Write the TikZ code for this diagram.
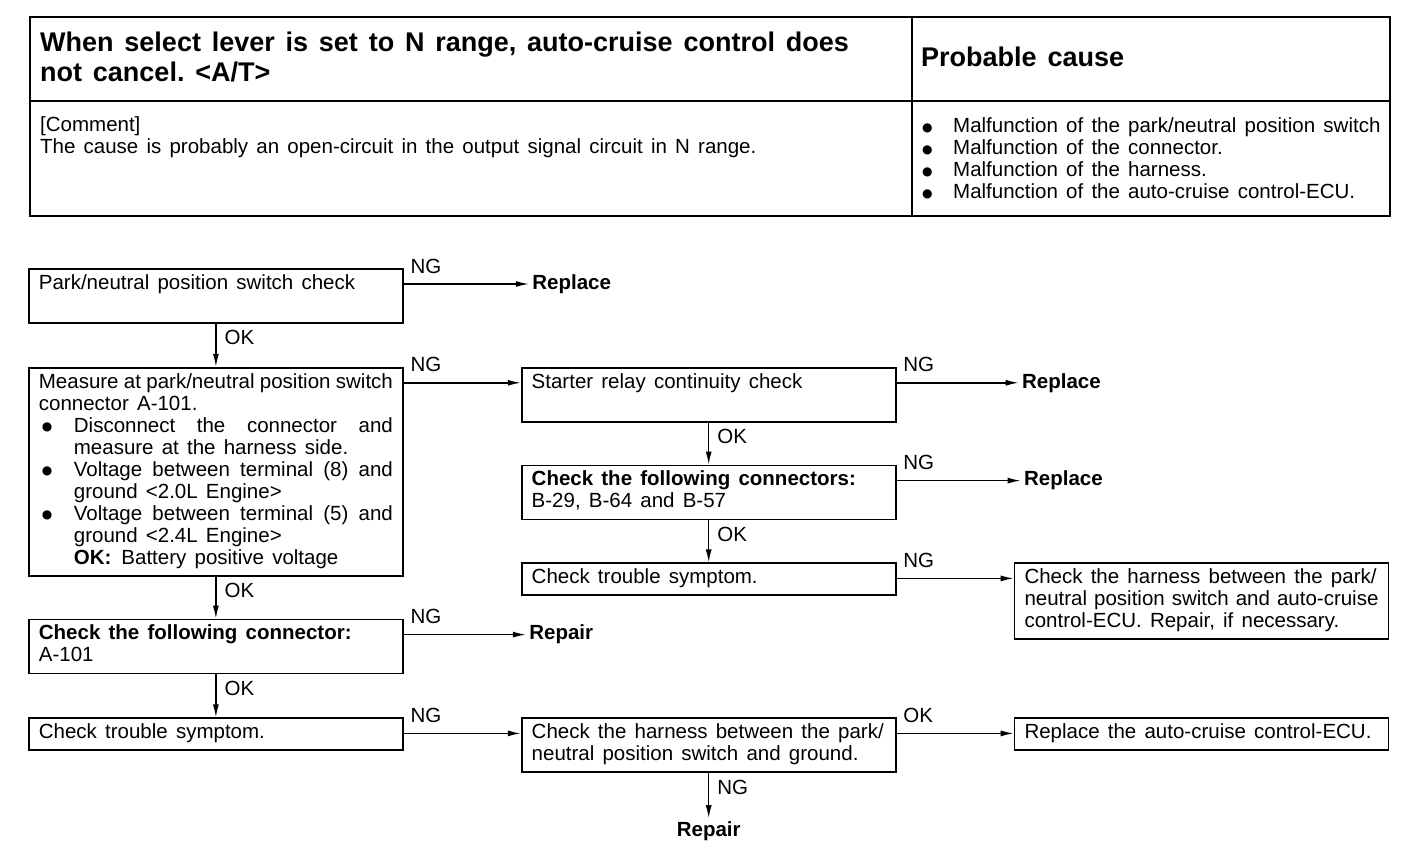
\documentclass[tikz,border=0pt]{standalone}
\usepackage{fontspec}
\setmainfont{Liberation Sans}
\newfontfamily\symfont{DejaVu Sans}
\usetikzlibrary{positioning,arrows.meta}

\newcommand{\bodyfont}{\fontsize{20.5}{22}\selectfont}
\newcommand{\headfont}{\fontsize{27}{30}\selectfont\bfseries}
\newcommand{\dotbul}{\raisebox{1.5pt}{\symfont\fontsize{12}{12}\selectfont ●}}
\newcommand{\bul}{\makebox[35pt][l]{\hspace{3pt}\dotbul}}
\newcommand{\ind}{\hspace*{35pt}}

\begin{document}
\begin{tikzpicture}[x=1pt,y=-1pt,font=\bodyfont,
	execute at begin node={\spaceskip=.4em plus .2em minus .14em\xspaceskip=\spaceskip},
	stepbox/.style={draw, rectangle, line width=1.8pt, text width=354pt,
		inner xsep=10pt, inner ysep=5pt, align=left},
	arr/.style={line width=1.4pt, -{Latex[length=13pt,width=6pt]}},
	hlbl/.style={anchor=south west, inner sep=0pt, xshift=6pt, yshift=10pt},
	vlbl/.style={anchor=north west, inner sep=0pt, xshift=8pt, yshift=-6pt},
	result/.style={anchor=west, font=\bodyfont\bfseries},
	tbl/.style={line width=1.8pt}]

\useasboundingbox (0,0) rectangle (1408,864);

% Header table
\draw[tbl] (30,17) rectangle (1390,216);
\draw[tbl] (30,101) -- (1390,101);
\draw[tbl] (912,17) -- (912,216);

\node[anchor=north west,
	inner sep=0pt,
	text width=870pt,
	align=left,
	font=\headfont] (title) at (40,32)
	{When select lever is set to N range, auto-cruise control does\\not cancel. <A/T>};

\node[anchor=base west,
	inner sep=0pt,
	font=\headfont] (cause) at (921,67) {Probable cause};

\node[anchor=north west,
	inner sep=0pt,
	align=left] (comment) at (40,116)
	{\strut[Comment]\\The cause is probably an open-circuit in the output signal circuit in N range.};

\node[anchor=north west,
	inner sep=0pt,
	align=left] (causes) at (922,117)
	{\strut\makebox[31pt][l]{\dotbul}Malfunction of the park/neutral position switch\\
	\makebox[31pt][l]{\dotbul}Malfunction of the connector.\\
	\makebox[31pt][l]{\dotbul}Malfunction of the harness.\\
	\makebox[31pt][l]{\dotbul}Malfunction of the auto-cruise control-ECU.\strut};

% Left column
\node[stepbox,
	anchor=north west] (parkchk) at (28,268)
	{\strut Park/neutral position switch check\\\strut};

\node[stepbox,
	below=43pt of parkchk] (measure)
	{\makebox[354pt][s]{\strut Measure at park/neutral position switch}\\
	connector A-101.\\
	\bul\makebox[319pt][s]{Disconnect the connector and}\\
	\ind measure at the harness side.\\
	\bul\makebox[319pt][s]{Voltage between terminal (8) and}\\
	\ind ground <2.0L Engine>\\
	\bul\makebox[319pt][s]{Voltage between terminal (5) and}\\
	\ind ground <2.4L Engine>\\
	\ind\textbf{OK:}\hspace{10pt}Battery positive voltage\strut};

\node[stepbox,
	below=42pt of measure] (conn)
	{\strut\textbf{Check the following connector:}\\A-101\strut};

\node[stepbox,
	below=43pt of conn] (symptom)
	{\strut Check trouble symptom.\strut};

% Middle column
\node[stepbox,
	right=117pt of measure.north east,
	anchor=north west] (relay)
	{\strut Starter relay continuity check\\\strut};

\node[stepbox,
	below=42pt of relay] (conns)
	{\strut\textbf{Check the following connectors:}\\B-29, B-64 and B-57\strut};

\node[stepbox,
	below=42pt of conns] (symptomb)
	{\strut Check trouble symptom.\strut};

\node[stepbox,
	right=117pt of symptom.north east,
	anchor=north west] (harnessgnd)
	{\strut Check the harness between the park/\\neutral position switch and ground.\strut};

% Right column
\node[stepbox,
	right=117pt of symptomb.north east,
	anchor=north west] (harnessecu)
	{\strut Check the harness between the park/\\neutral position switch and auto-cruise\\control-ECU. Repair, if necessary.\strut};

\node[stepbox,
	right=117pt of harnessgnd.north east,
	anchor=north west] (ecu)
	{\strut Replace the auto-cruise control-ECU.\strut};

% Results
\node[result] (rep1) at ([xshift=125pt,yshift=-16pt]parkchk.north east) {Replace};
\node[result] (rep2) at ([xshift=122pt,yshift=-16pt]relay.north east) {Replace};
\node[result] (rep3) at ([xshift=124pt,yshift=-16pt]conns.north east) {Replace};
\node[result] (repair1) at ([xshift=122pt,yshift=-16pt]conn.north east) {Repair};
\node[font=\bodyfont\bfseries,
	below=45pt of harnessgnd] (repair2) {Repair};

% Arrows
\draw[arr] (parkchk) -- node[vlbl,pos=0] {OK} (measure);
\draw[arr] (measure) -- node[vlbl,pos=0] {OK} (conn);
\draw[arr] (conn) -- node[vlbl,pos=0] {OK} (symptom);
\draw[arr] (relay) -- node[vlbl,pos=0] {OK} (conns);
\draw[arr] (conns) -- node[vlbl,pos=0] {OK} (symptomb);
\draw[arr] (harnessgnd) -- node[vlbl,pos=0] {NG} (repair2);

\draw[arr] ([yshift=-16pt]parkchk.north east) -- node[hlbl,pos=0] {NG} (rep1);
\draw[arr] ([yshift=-16pt]measure.north east) -- node[hlbl,pos=0] {NG} ([yshift=-16pt]relay.north west);
\draw[arr] ([yshift=-16pt]relay.north east) -- node[hlbl,pos=0] {NG} (rep2);
\draw[arr] ([yshift=-16pt]conns.north east) -- node[hlbl,pos=0] {NG} (rep3);
\draw[arr] ([yshift=-16pt]symptomb.north east) -- node[hlbl,pos=0] {NG} ([yshift=-16pt]harnessecu.north west);
\draw[arr] ([yshift=-16pt]conn.north east) -- node[hlbl,pos=0] {NG} (repair1);
\draw[arr] ([yshift=-16pt]symptom.north east) -- node[hlbl,pos=0] {NG} ([yshift=-16pt]harnessgnd.north west);
\draw[arr] ([yshift=-16pt]harnessgnd.north east) -- node[hlbl,pos=0] {OK} ([yshift=-16pt]ecu.north west);

\end{tikzpicture}
\end{document}
